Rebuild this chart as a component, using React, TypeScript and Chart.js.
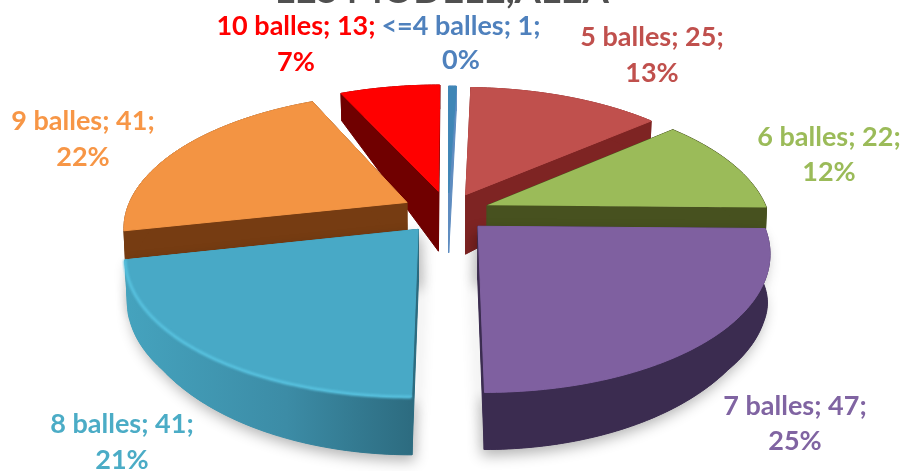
import React, { useEffect, useRef } from "react";
import { Chart, registerables } from "chart.js";

Chart.register(...registerables);

const categories = ["<=4 balles", "5 balles", "6 balles", "7 balles", "8 balles", "9 balles", "10 balles"];
const counts = [1, 25, 22, 47, 41, 41, 13];
const percents = [0, 13, 12, 25, 21, 22, 7];
const explode = [32.5, 32.5, 32.5, 32.5, 36, 36, 36];
const topColors = ["#3F86B6", "#C0504D", "#9BBB59", "#7F60A0", "#48A9C6", "#F39443", "#FF0000"];
const wallColors = ["#5E8CC0", "#7E2423", "#47511F", "#3B2C50", "#3C8CA6", "#763C12", "#700000"];
const labelColors = ["#4F81BD", "#C0504D", "#9BBB59", "#8064A2", "#4BACC6", "#F79646", "#FF0000"];
const titleText = "LES MODELE,ALEA";

// layout of the data labels: [centre x, first line y, second line y]
const labelPlaces = [
  [461, 26, 60],
  [652, 37, 73],
  [829, 137, 172],
  [795, 406, 441],
  [122, 424, 460],
  [83, 121, 157],
  [296, 26, 62],
];
const drawOrder = [0, 6, 1, 5, 2, 4, 3];

// pie-to-screen projection
const WORLD_RADIUS = 281;
const CX = 448;
const CY = 212;
const K = 0.000622;
const TILT = 0.468;

function scaleAt(Y: number) {
  return 1 / (1 - K * Y);
}
function project(X: number, Y: number) {
  const s = scaleAt(Y);
  return [CX + X * s, CY + TILT * Y * s];
}
function depth(Y: number) {
  if (Y < -44) return 28 + ((Y + 297) / 253) * 32;
  if (Y < 127) return 60 - ((Y + 44) / 171) * 15;
  if (Y < 210) return 45;
  return 45 + ((Y - 210) / 100) * 12;
}

const pie3d = {
  id: "pie3d",
  beforeDatasetsDraw(chart: any) {
    const ctx = chart.ctx as CanvasRenderingContext2D;
    const meta = chart.getDatasetMeta(0);
    const bottom = (X: number, Y: number) => {
      const s = scaleAt(Y);
      const p = project(X, Y);
      return [CX + X * s * 0.992, p[1] + depth(Y)];
    };
    drawOrder.forEach((i) => {
      const arc = meta.data[i];
      const f = WORLD_RADIUS / arc.outerRadius;
      const R = arc.outerRadius * f;
      const mid = (arc.startAngle + arc.endAngle) / 2;
      const e = arc.options.offset * f;
      const ax = Math.cos(mid) * e;
      const ay = Math.sin(mid) * e;
      const steps = Math.max(3, Math.round(((arc.endAngle - arc.startAngle) * 180) / Math.PI));
      const rim: number[][] = [];
      for (let t = 0; t <= steps; t++) {
        const a = arc.startAngle + ((arc.endAngle - arc.startAngle) * t) / steps;
        rim.push([ax + Math.cos(a) * R, ay + Math.sin(a) * R]);
      }
      const poly = (pts: number[][]) => {
        ctx.beginPath();
        pts.forEach((p, n) => (n ? ctx.lineTo(p[0], p[1]) : ctx.moveTo(p[0], p[1])));
        ctx.closePath();
      };
      const topFace = [project(ax, ay), ...rim.map((p) => project(p[0], p[1]))];
      const startWall = [project(ax, ay), project(rim[0][0], rim[0][1]), bottom(rim[0][0], rim[0][1]), bottom(ax, ay)];
      const last = rim[rim.length - 1];
      const endWall = [project(ax, ay), project(last[0], last[1]), bottom(last[0], last[1]), bottom(ax, ay)];
      const outerWall = [...rim.map((p) => project(p[0], p[1])), ...[...rim].reverse().map((p) => bottom(p[0], p[1]))];

      ctx.save();
      // soft cast shadow for the front slices
      if (i === 3 || i === 4) {
        ctx.shadowColor = "rgba(0,0,0,0.30)";
        ctx.shadowBlur = 14;
        ctx.shadowOffsetX = i === 3 ? -3 : 3;
        ctx.shadowOffsetY = 6;
        ctx.fillStyle = wallColors[i];
        poly(outerWall);
        ctx.fill();
        poly(startWall);
        ctx.fill();
        poly(endWall);
        ctx.fill();
        ctx.shadowColor = "transparent";
      }
      let wallFill: any = wallColors[i];
      if (i === 4) {
        const g = ctx.createLinearGradient(125, 0, 418, 0);
        g.addColorStop(0, "#45A3BE");
        g.addColorStop(0.55, "#3C8CA6");
        g.addColorStop(1, "#2C6A7E");
        wallFill = g;
      }
      ctx.fillStyle = wallFill;
      ctx.strokeStyle = wallFill;
      ctx.lineWidth = 1;
      [startWall, endWall, outerWall].forEach((w) => {
        poly(w);
        ctx.fill();
        ctx.stroke();
      });
      ctx.fillStyle = topColors[i];
      poly(topFace);
      ctx.fill();
      if (i !== 2) {
        ctx.strokeStyle = topColors[i];
        ctx.lineWidth = 1;
        ctx.stroke();
      }
      // lit bevel along the front rim of the blue slice
      if (i === 4) {
        ctx.beginPath();
        rim.forEach((p, n) => {
          const q = project(p[0], p[1]);
          if (n) ctx.lineTo(q[0], q[1]);
          else ctx.moveTo(q[0], q[1]);
        });
        ctx.filter = "blur(1px)";
        ctx.strokeStyle = "#58C2DF";
        ctx.lineWidth = 3;
        ctx.stroke();
        ctx.filter = "none";
      }
      ctx.restore();
    });
    return false;
  },
  afterDraw(chart: any) {
    const ctx = chart.ctx as CanvasRenderingContext2D;
    ctx.save();
    ctx.textAlign = "center";
    ctx.textBaseline = "middle";
    ctx.font = "bold 27px Lato";
    categories.forEach((c, i) => {
      const [x, y1, y2] = labelPlaces[i];
      ctx.fillStyle = labelColors[i];
      ctx.fillText(`${c}; ${counts[i]};`, x, y1);
      ctx.fillText(`${percents[i]}%`, x, y2);
    });
    ctx.fillStyle = "#505050";
    ctx.font = "bold 38px Lato";
    ctx.textBaseline = "alphabetic";
    ctx.fillText(titleText, 442, 3);
    ctx.restore();
  },
};

export default function App() {
  const ref = useRef<HTMLCanvasElement>(null);
  useEffect(() => {
    const chart = new Chart(ref.current as HTMLCanvasElement, {
      type: "pie",
      data: {
        labels: categories,
        datasets: [{ data: counts, backgroundColor: topColors, borderWidth: 0, offset: explode }],
      },
      options: {
        animation: false,
        responsive: false,
        plugins: { legend: { display: false }, title: { display: false }, tooltip: { enabled: false } },
      },
      plugins: [pie3d],
    } as any);
    return () => chart.destroy();
  }, []);
  return (
    <div style={{ position: "fixed", left: 0, top: 0, width: 905, height: 471, background: "#fff" }}>
      <canvas ref={ref} width={905} height={471} style={{ display: "block", filter: "blur(0.5px)" }} />
    </div>
  );
}
